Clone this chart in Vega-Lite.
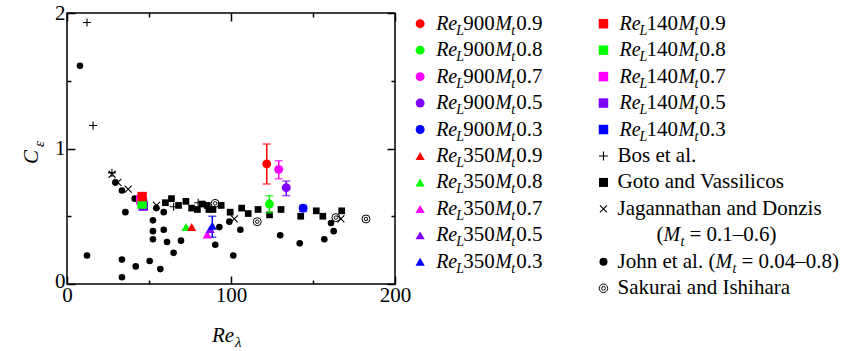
{
 "$schema": "https://vega.github.io/schema/vega-lite/v6.json",
 "background": "white",
 "padding": {"left": 20, "top": 1, "right": 0, "bottom": 0},
 "config": {
  "view": {"stroke": null},
  "font": "Liberation Serif",
  "axis": {"labelFont": "Liberation Serif", "labelFontSize": 21, "labelColor": "black", "tickColor": "black", "tickWidth": 1.5, "domain": false, "grid": false, "title": null, "labelFlush": false, "labelOverlap": false, "labelPadding": 4},
  "text": {"font": "Liberation Serif", "color": "black"}
 },
 "spacing": 0,
 "datasets": {
  "dns": [
   {"grp": "350", "mt": "0.8", "x": 72.6, "y": 0.42},
   {"grp": "350", "mt": "0.9", "x": 76, "y": 0.42},
   {"grp": "350", "mt": "0.7", "x": 85.5, "y": 0.365},
   {"grp": "350", "mt": "0.5", "x": 87.3, "y": 0.405},
   {"grp": "350", "mt": "0.3", "x": 88.6, "y": 0.43, "lo": 0.345, "hi": 0.5},
   {"grp": "900", "mt": "0.9", "x": 121.8, "y": 0.886, "lo": 0.738, "hi": 1.033},
   {"grp": "900", "mt": "0.8", "x": 123.4, "y": 0.59, "lo": 0.526, "hi": 0.652},
   {"grp": "900", "mt": "0.7", "x": 129.1, "y": 0.846, "lo": 0.777, "hi": 0.91},
   {"grp": "900", "mt": "0.5", "x": 133.7, "y": 0.711, "lo": 0.652, "hi": 0.76},
   {"grp": "900", "mt": "0.3", "x": 144, "y": 0.56, "lo": 0.535, "hi": 0.58},
   {"grp": "140", "mt": "0.3", "x": 46, "y": 0.6},
   {"grp": "140", "mt": "0.7", "x": 45, "y": 0.62},
   {"grp": "140", "mt": "0.5", "x": 46.5, "y": 0.575},
   {"grp": "140", "mt": "0.8", "x": 45.8, "y": 0.59},
   {"grp": "140", "mt": "0.9", "x": 45.8, "y": 0.645}
  ],
  "john": [
   {"x": 7.9, "y": 1.61}, {"x": 12.2, "y": 0.21}, {"x": 29.5, "y": 0.75}, {"x": 33.5, "y": 0.69},
   {"x": 41.3, "y": 0.63}, {"x": 35.6, "y": 0.53}, {"x": 54.5, "y": 0.56}, {"x": 59, "y": 0.53},
   {"x": 52.4, "y": 0.47}, {"x": 52.4, "y": 0.39}, {"x": 59, "y": 0.4}, {"x": 52.4, "y": 0.33},
   {"x": 61, "y": 0.31}, {"x": 65, "y": 0.23}, {"x": 33.5, "y": 0.18}, {"x": 41.9, "y": 0.13},
   {"x": 50.4, "y": 0.17}, {"x": 56.9, "y": 0.11}, {"x": 33.5, "y": 0.05}, {"x": 69.5, "y": 0.32},
   {"x": 90.4, "y": 0.29}, {"x": 92.9, "y": 0.42}, {"x": 99, "y": 0.46}, {"x": 105.7, "y": 0.4},
   {"x": 101.4, "y": 0.21}, {"x": 130, "y": 0.36}, {"x": 141.9, "y": 0.3}, {"x": 156.9, "y": 0.33},
   {"x": 162.6, "y": 0.39}, {"x": 161, "y": 0.45}
  ],
  "goto": [
   {"x": 60, "y": 0.6}, {"x": 63.7, "y": 0.63}, {"x": 68, "y": 0.58}, {"x": 72.5, "y": 0.61},
   {"x": 76, "y": 0.56}, {"x": 79.5, "y": 0.55}, {"x": 82.5, "y": 0.59}, {"x": 85.5, "y": 0.58},
   {"x": 86.5, "y": 0.55}, {"x": 89, "y": 0.55}, {"x": 94, "y": 0.58}, {"x": 99.5, "y": 0.53},
   {"x": 106.5, "y": 0.56}, {"x": 110.5, "y": 0.52}, {"x": 116.5, "y": 0.55}, {"x": 123.5, "y": 0.51},
   {"x": 130.5, "y": 0.55}, {"x": 142.5, "y": 0.5}, {"x": 152, "y": 0.54}, {"x": 156, "y": 0.5},
   {"x": 167.5, "y": 0.54}
  ],
  "bos": [
   {"x": 12.2, "y": 1.93}, {"x": 15.9, "y": 1.17}, {"x": 27.4, "y": 0.82}, {"x": 65, "y": 0.57}, {"x": 80, "y": 0.6}
  ],
  "jd": [
   {"x": 27.5, "y": 0.81}, {"x": 31, "y": 0.75}, {"x": 37.3, "y": 0.7}, {"x": 54.6, "y": 0.58}, {"x": 102, "y": 0.48}, {"x": 167, "y": 0.48}
  ],
  "sak": [
   {"x": 90.3, "y": 0.595}, {"x": 116, "y": 0.46}, {"x": 164, "y": 0.49}, {"x": 182.3, "y": 0.48}
  ],
  "legDNS": [
   {"col": 0, "row": 0, "grp": "900", "mt": "0.9"},
   {"col": 0, "row": 1, "grp": "900", "mt": "0.8"},
   {"col": 0, "row": 2, "grp": "900", "mt": "0.7"},
   {"col": 0, "row": 3, "grp": "900", "mt": "0.5"},
   {"col": 0, "row": 4, "grp": "900", "mt": "0.3"},
   {"col": 0, "row": 5, "grp": "350", "mt": "0.9"},
   {"col": 0, "row": 6, "grp": "350", "mt": "0.8"},
   {"col": 0, "row": 7, "grp": "350", "mt": "0.7"},
   {"col": 0, "row": 8, "grp": "350", "mt": "0.5"},
   {"col": 0, "row": 9, "grp": "350", "mt": "0.3"},
   {"col": 1, "row": 0, "grp": "140", "mt": "0.9"},
   {"col": 1, "row": 1, "grp": "140", "mt": "0.8"},
   {"col": 1, "row": 2, "grp": "140", "mt": "0.7"},
   {"col": 1, "row": 3, "grp": "140", "mt": "0.5"},
   {"col": 1, "row": 4, "grp": "140", "mt": "0.3"}
  ],
  "legRef": [
   {"col": 1, "row": 5, "src": "Bos", "label": "Bos et al."},
   {"col": 1, "row": 6, "src": "Goto", "label": "Goto and Vassilicos"},
   {"col": 1, "row": 7, "src": "JD", "label": "Jagannathan and Donzis"},
   {"col": 1, "row": 9, "src": "John", "label": "John et al. ("},
   {"col": 1, "row": 10, "src": "Sak", "label": "Sakurai and Ishihara"}
  ]
 },
 "hconcat": [
  {
   "width": 328,
   "height": 271,
   "view": {"stroke": "black", "strokeWidth": 1.5},
   "resolve": {"axis": {"x": "independent", "y": "independent"}},
   "layer": [
    {
     "data": {"name": "goto"},
     "mark": {"type": "point", "shape": "square", "filled": true, "color": "black", "opacity": 1, "size": 45, "strokeWidth": 0},
     "encoding": {
      "x": {"field": "x", "type": "quantitative", "scale": {"domain": [0, 200], "nice": false, "zero": false},
            "axis": {"orient": "top", "values": [0, 50, 100, 150, 200], "labels": false, "tickSize": {"condition": {"test": "datum.value % 100 === 0", "value": -8}, "value": -4}}},
      "y": {"field": "y", "type": "quantitative", "scale": {"domain": [0, 2], "nice": false, "zero": false},
            "axis": {"orient": "right", "values": [0, 0.5, 1, 1.5, 2], "labels": false, "tickSize": {"condition": {"test": "datum.value % 1 === 0", "value": -8}, "value": -4}}}
     }
    },
    {
     "data": {"name": "john"},
     "mark": {"type": "point", "shape": "circle", "filled": true, "color": "black", "opacity": 1, "size": 44, "strokeWidth": 0},
     "encoding": {
      "x": {"field": "x", "type": "quantitative", "scale": {"domain": [0, 200], "nice": false, "zero": false},
            "axis": {"orient": "bottom", "values": [0, 50, 100, 150, 200], "labelPadding": 8, "labelExpr": "datum.value % 100 === 0 ? '' + datum.value : ''", "tickSize": {"condition": {"test": "datum.value % 100 === 0", "value": -8}, "value": -4}}},
      "y": {"field": "y", "type": "quantitative", "scale": {"domain": [0, 2], "nice": false, "zero": false},
            "axis": {"orient": "left", "values": [0, 0.5, 1, 1.5, 2], "labelPadding": 10, "labelOffset": {"condition": {"test": "datum.value === 0", "value": -3}, "value": 0}, "labelExpr": "datum.value % 1 === 0 ? '' + datum.value : ''", "tickSize": {"condition": {"test": "datum.value % 1 === 0", "value": -8}, "value": -4}}}
     }
    },
    {
     "data": {"name": "bos"},
     "mark": {"type": "point", "shape": "M-1,0L1,0M0,-1L0,1", "filled": false, "color": "black", "opacity": 1, "size": 64, "strokeWidth": 1.1},
     "encoding": {
      "x": {"field": "x", "type": "quantitative", "scale": {"domain": [0, 200], "nice": false, "zero": false}, "axis": null},
      "y": {"field": "y", "type": "quantitative", "scale": {"domain": [0, 2], "nice": false, "zero": false}, "axis": null}
     }
    },
    {
     "data": {"name": "jd"},
     "mark": {"type": "point", "shape": "M-1,-1L1,1M-1,1L1,-1", "filled": false, "color": "black", "opacity": 1, "size": 49, "strokeWidth": 1.1},
     "encoding": {
      "x": {"field": "x", "type": "quantitative", "scale": {"domain": [0, 200], "nice": false, "zero": false}, "axis": null},
      "y": {"field": "y", "type": "quantitative", "scale": {"domain": [0, 2], "nice": false, "zero": false}, "axis": null}
     }
    },
    {
     "data": {"name": "sak"},
     "mark": {"type": "point", "shape": "circle", "filled": false, "color": "black", "opacity": 1, "size": 64, "strokeWidth": 1},
     "encoding": {
      "x": {"field": "x", "type": "quantitative", "scale": {"domain": [0, 200], "nice": false, "zero": false}, "axis": null},
      "y": {"field": "y", "type": "quantitative", "scale": {"domain": [0, 2], "nice": false, "zero": false}, "axis": null}
     }
    },
    {
     "data": {"name": "sak"},
     "mark": {"type": "point", "shape": "circle", "filled": false, "color": "black", "opacity": 1, "size": 12, "strokeWidth": 1},
     "encoding": {
      "x": {"field": "x", "type": "quantitative", "scale": {"domain": [0, 200], "nice": false, "zero": false}, "axis": null},
      "y": {"field": "y", "type": "quantitative", "scale": {"domain": [0, 2], "nice": false, "zero": false}, "axis": null}
     }
    },
    {
     "data": {"name": "dns"},
     "transform": [{"filter": "isValid(datum.lo)"}],
     "mark": {"type": "errorbar", "ticks": {"size": 8, "thickness": 1.5}, "thickness": 1.5},
     "encoding": {
      "x": {"field": "x", "type": "quantitative", "scale": {"domain": [0, 200], "nice": false, "zero": false}, "axis": null},
      "y": {"field": "lo", "type": "quantitative", "scale": {"domain": [0, 2], "nice": false, "zero": false}, "axis": null},
      "y2": {"field": "hi"},
      "color": {"field": "mt", "type": "nominal", "scale": {"domain": ["0.9", "0.8", "0.7", "0.5", "0.3"], "range": ["#ff0000", "#00ff00", "#ff00ff", "#8000ff", "#0000ff"]}, "legend": null}
     }
    },
    {
     "data": {"name": "dns"},
     "mark": {"type": "point", "filled": true, "opacity": 1, "strokeWidth": 0},
     "encoding": {
      "x": {"field": "x", "type": "quantitative", "scale": {"domain": [0, 200], "nice": false, "zero": false}, "axis": null},
      "y": {"field": "y", "type": "quantitative", "scale": {"domain": [0, 2], "nice": false, "zero": false}, "axis": null},
      "color": {"field": "mt", "type": "nominal", "scale": {"domain": ["0.9", "0.8", "0.7", "0.5", "0.3"], "range": ["#ff0000", "#00ff00", "#ff00ff", "#8000ff", "#0000ff"]}, "legend": null},
      "shape": {"field": "grp", "type": "nominal", "scale": {"domain": ["900", "350", "140"], "range": ["circle", "triangle-up", "square"]}, "legend": null},
      "size": {"field": "grp", "type": "ordinal", "scale": {"domain": ["900", "350", "140"], "range": [80, 90, 110]}, "legend": null}
     }
    },
    {
     "data": {"values": [{}]},
     "mark": {"type": "text", "text": "Re", "fontStyle": "italic", "fontSize": 21, "align": "left", "baseline": "middle"},
     "encoding": {
      "x": {"datum": 88.4, "type": "quantitative", "axis": null},
      "y": {"datum": -0.384, "type": "quantitative", "axis": null}
     }
    },
    {
     "data": {"values": [{}]},
     "mark": {"type": "text", "text": "λ", "fontStyle": "italic", "fontSize": 15, "align": "left", "baseline": "middle", "dx": 23, "dy": 6},
     "encoding": {
      "x": {"datum": 88.4, "type": "quantitative", "axis": null},
      "y": {"datum": -0.384, "type": "quantitative", "axis": null}
     }
    },
    {
     "data": {"values": [{}]},
     "mark": {"type": "text", "text": "C", "fontStyle": "italic", "fontSize": 21, "align": "center", "baseline": "middle", "angle": 270},
     "encoding": {
      "x": {"datum": -21.3, "type": "quantitative", "axis": null},
      "y": {"datum": 0.937, "type": "quantitative", "axis": null}
     }
    },
    {
     "data": {"values": [{}]},
     "mark": {"type": "text", "text": "ε", "fontStyle": "italic", "fontSize": 15, "align": "center", "baseline": "middle", "angle": 270, "dx": 13, "dy": 7},
     "encoding": {
      "x": {"datum": -21.3, "type": "quantitative", "axis": null},
      "y": {"datum": 0.937, "type": "quantitative", "axis": null}
     }
    }
   ]
  },
  {
   "width": 440,
   "height": 300,
   "layer": [
    {
     "data": {"name": "legDNS"},
     "mark": {"type": "point", "filled": true, "opacity": 1, "strokeWidth": 0},
     "encoding": {
      "x": {"field": "col", "type": "quantitative", "scale": {"domain": [-0.0444, 2.3556], "nice": false, "zero": false}, "axis": null},
      "y": {"field": "row", "type": "quantitative", "scale": {"domain": [-0.404, 10.934], "nice": false, "zero": false, "reverse": true}, "axis": null},
      "color": {"field": "mt", "type": "nominal", "scale": {"domain": ["0.9", "0.8", "0.7", "0.5", "0.3"], "range": ["#ff0000", "#00ff00", "#ff00ff", "#8000ff", "#0000ff"]}, "legend": null},
      "shape": {"field": "grp", "type": "nominal", "scale": {"domain": ["900", "350", "140"], "range": ["circle", "triangle-up", "square"]}, "legend": null},
      "size": {"field": "grp", "type": "ordinal", "scale": {"domain": ["900", "350", "140"], "range": [80, 90, 110]}, "legend": null}
     }
    },
    {
     "data": {"name": "legDNS"},
     "mark": {"type": "text", "text": "Re", "fontStyle": "italic", "fontSize": 20, "align": "left", "baseline": "middle", "dx": 16},
     "encoding": {"x": {"field": "col", "type": "quantitative", "axis": null}, "y": {"field": "row", "type": "quantitative", "axis": null}}
    },
    {
     "data": {"name": "legDNS"},
     "mark": {"type": "text", "text": "L", "fontStyle": "italic", "fontSize": 14, "align": "left", "baseline": "middle", "dx": 36, "dy": 7},
     "encoding": {"x": {"field": "col", "type": "quantitative", "axis": null}, "y": {"field": "row", "type": "quantitative", "axis": null}}
    },
    {
     "data": {"name": "legDNS"},
     "mark": {"type": "text", "fontSize": 21, "align": "left", "baseline": "middle", "dx": 43},
     "encoding": {"x": {"field": "col", "type": "quantitative", "axis": null}, "y": {"field": "row", "type": "quantitative", "axis": null}, "text": {"field": "grp"}}
    },
    {
     "data": {"name": "legDNS"},
     "mark": {"type": "text", "text": "M", "fontStyle": "italic", "fontSize": 20, "align": "left", "baseline": "middle", "dx": 75},
     "encoding": {"x": {"field": "col", "type": "quantitative", "axis": null}, "y": {"field": "row", "type": "quantitative", "axis": null}}
    },
    {
     "data": {"name": "legDNS"},
     "mark": {"type": "text", "text": "t", "fontStyle": "italic", "fontSize": 14, "align": "left", "baseline": "middle", "dx": 91, "dy": 7},
     "encoding": {"x": {"field": "col", "type": "quantitative", "axis": null}, "y": {"field": "row", "type": "quantitative", "axis": null}}
    },
    {
     "data": {"name": "legDNS"},
     "mark": {"type": "text", "fontSize": 21, "align": "left", "baseline": "middle", "dx": 96},
     "encoding": {"x": {"field": "col", "type": "quantitative", "axis": null}, "y": {"field": "row", "type": "quantitative", "axis": null}, "text": {"field": "mt"}}
    },
    {
     "data": {"name": "legRef"},
     "transform": [{"filter": "datum.src === 'Bos'"}],
     "mark": {"type": "point", "shape": "M-1,0L1,0M0,-1L0,1", "filled": false, "color": "black", "opacity": 1, "size": 80, "strokeWidth": 1.1},
     "encoding": {"x": {"field": "col", "type": "quantitative", "axis": null}, "y": {"field": "row", "type": "quantitative", "axis": null}}
    },
    {
     "data": {"name": "legRef"},
     "transform": [{"filter": "datum.src === 'Goto'"}],
     "mark": {"type": "point", "shape": "square", "filled": true, "color": "black", "opacity": 1, "size": 81, "strokeWidth": 0},
     "encoding": {"x": {"field": "col", "type": "quantitative", "axis": null}, "y": {"field": "row", "type": "quantitative", "axis": null}}
    },
    {
     "data": {"name": "legRef"},
     "transform": [{"filter": "datum.src === 'JD'"}],
     "mark": {"type": "point", "shape": "M-1,-1L1,1M-1,1L1,-1", "filled": false, "color": "black", "opacity": 1, "size": 49, "strokeWidth": 1.1},
     "encoding": {"x": {"field": "col", "type": "quantitative", "axis": null}, "y": {"field": "row", "type": "quantitative", "axis": null}}
    },
    {
     "data": {"name": "legRef"},
     "transform": [{"filter": "datum.src === 'John'"}],
     "mark": {"type": "point", "shape": "circle", "filled": true, "color": "black", "opacity": 1, "size": 64, "strokeWidth": 0},
     "encoding": {"x": {"field": "col", "type": "quantitative", "axis": null}, "y": {"field": "row", "type": "quantitative", "axis": null}}
    },
    {
     "data": {"name": "legRef"},
     "transform": [{"filter": "datum.src === 'Sak'"}],
     "mark": {"type": "point", "shape": "circle", "filled": false, "color": "black", "opacity": 1, "size": 72, "strokeWidth": 1},
     "encoding": {"x": {"field": "col", "type": "quantitative", "axis": null}, "y": {"field": "row", "type": "quantitative", "axis": null}}
    },
    {
     "data": {"name": "legRef"},
     "transform": [{"filter": "datum.src === 'Sak'"}],
     "mark": {"type": "point", "shape": "circle", "filled": false, "color": "black", "opacity": 1, "size": 14, "strokeWidth": 1},
     "encoding": {"x": {"field": "col", "type": "quantitative", "axis": null}, "y": {"field": "row", "type": "quantitative", "axis": null}}
    },
    {
     "data": {"name": "legRef"},
     "mark": {"type": "text", "fontSize": 21, "align": "left", "baseline": "middle", "dx": 14},
     "encoding": {"x": {"field": "col", "type": "quantitative", "axis": null}, "y": {"field": "row", "type": "quantitative", "axis": null}, "text": {"field": "label"}}
    },
    {
     "data": {"values": [{}]},
     "mark": {"type": "text", "text": "(", "fontSize": 21, "align": "left", "baseline": "middle", "dx": 53},
     "encoding": {"x": {"datum": 1, "type": "quantitative", "axis": null}, "y": {"datum": 8, "type": "quantitative", "axis": null}}
    },
    {
     "data": {"values": [{}]},
     "mark": {"type": "text", "text": "M", "fontStyle": "italic", "fontSize": 20, "align": "left", "baseline": "middle", "dx": 60},
     "encoding": {"x": {"datum": 1, "type": "quantitative", "axis": null}, "y": {"datum": 8, "type": "quantitative", "axis": null}}
    },
    {
     "data": {"values": [{}]},
     "mark": {"type": "text", "text": "t", "fontStyle": "italic", "fontSize": 14, "align": "left", "baseline": "middle", "dx": 77, "dy": 7},
     "encoding": {"x": {"datum": 1, "type": "quantitative", "axis": null}, "y": {"datum": 8, "type": "quantitative", "axis": null}}
    },
    {
     "data": {"values": [{}]},
     "mark": {"type": "text", "text": "= 0.1–0.6)", "fontSize": 21, "align": "left", "baseline": "middle", "dx": 86},
     "encoding": {"x": {"datum": 1, "type": "quantitative", "axis": null}, "y": {"datum": 8, "type": "quantitative", "axis": null}}
    },
    {
     "data": {"values": [{}]},
     "mark": {"type": "text", "text": "M", "fontStyle": "italic", "fontSize": 20, "align": "left", "baseline": "middle", "dx": 112},
     "encoding": {"x": {"datum": 1, "type": "quantitative", "axis": null}, "y": {"datum": 9, "type": "quantitative", "axis": null}}
    },
    {
     "data": {"values": [{}]},
     "mark": {"type": "text", "text": "t", "fontStyle": "italic", "fontSize": 14, "align": "left", "baseline": "middle", "dx": 129, "dy": 7},
     "encoding": {"x": {"datum": 1, "type": "quantitative", "axis": null}, "y": {"datum": 9, "type": "quantitative", "axis": null}}
    },
    {
     "data": {"values": [{}]},
     "mark": {"type": "text", "text": "= 0.04–0.8)", "fontSize": 21, "align": "left", "baseline": "middle", "dx": 138},
     "encoding": {"x": {"datum": 1, "type": "quantitative", "axis": null}, "y": {"datum": 9, "type": "quantitative", "axis": null}}
    }
   ]
  }
 ]
}
